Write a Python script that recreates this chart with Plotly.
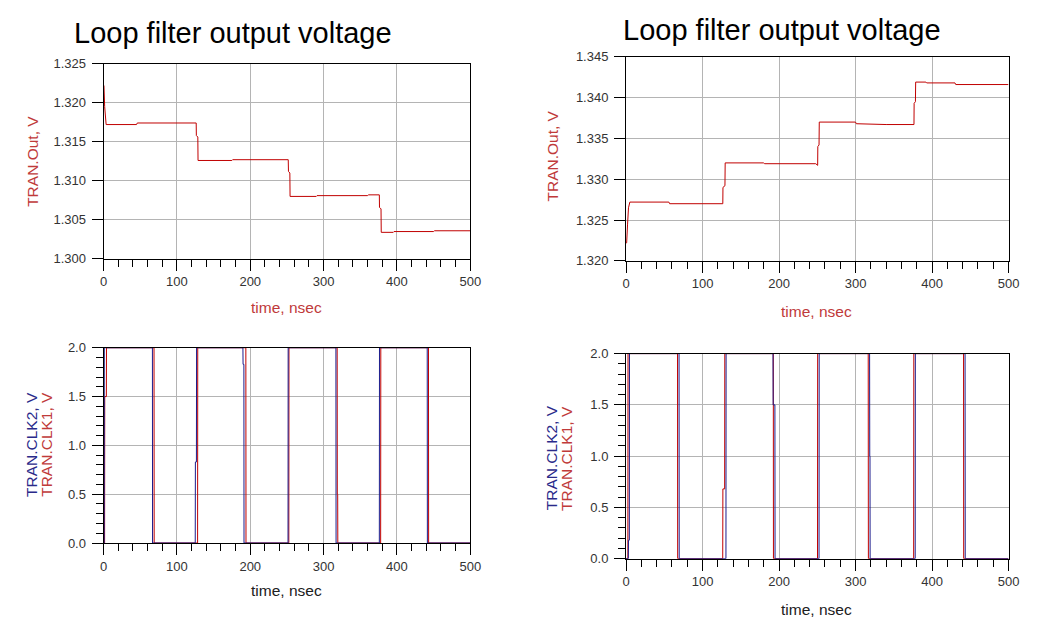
import plotly.graph_objects as go

W, H = 1056, 634

# ---------------- data ----------------
# Top-left: loop filter output (V) vs time (ns)
tl_time = [0, 0.5, 1.5, 3.5, 45, 46, 126.3, 126.5, 128.5, 128.8, 175, 176,
           251.8, 252.1, 254.0, 254.3, 290, 291, 360, 361, 376.0, 376.2, 378.3, 378.6,
           395, 396, 450, 451, 500]
tl_out = [1.3222, 1.3222, 1.3195, 1.3172, 1.3172, 1.3174, 1.3174, 1.3158, 1.3156, 1.3126, 1.3126, 1.3127,
          1.3127, 1.3112, 1.3110, 1.3080, 1.3080, 1.3081, 1.3081, 1.3082, 1.3082, 1.3066, 1.3064, 1.3034,
          1.3034, 1.3035, 1.3035, 1.3036, 1.3036]

# Top-right: loop filter output (V) vs time (ns)
tr_time = [0, 0.8, 2.0, 3.2, 5.0, 56, 57, 126.5, 126.7, 129.3, 129.6, 180, 181, 248, 250.5,
           250.7, 252.3, 252.6, 300, 301, 340, 376.4, 376.6, 378.3, 378.6, 392, 393, 430, 431, 500]
tr_out = [1.3222, 1.3222, 1.3245, 1.3265, 1.3272, 1.3272, 1.3270, 1.3270, 1.3290, 1.3292, 1.3320, 1.3320, 1.3319, 1.3319, 1.3317,
          1.3340, 1.3342, 1.3370, 1.3370, 1.3368, 1.3367, 1.3367, 1.3393, 1.3395, 1.3419, 1.3419, 1.3418, 1.3418, 1.3416, 1.3416]

# Bottom-left: clocks (V) vs time (ns)
bl_clk2_t = [0, 0.8, 1.0, 66.6, 66.8, 125.0, 125.2, 126.6, 126.8, 190.0, 190.2, 191.3, 191.5,
             251.5, 251.7, 316.8, 317.0, 376.0, 376.2, 441.3, 441.5, 500]
bl_clk2_v = [0, 0, 2, 2, 0, 0, 0.83, 0.83, 2, 2, 1.83, 1.83, 0,
             0, 2, 2, 0, 0, 2, 2, 0, 0]
bl_clk1_t = [0, 1.4, 1.6, 3.8, 4.0, 68.8, 69.0, 128.2, 128.4, 194.0, 194.2, 252.6, 252.8,
             318.5, 318.7, 319.2, 319.4, 377.8, 378.0, 443.0, 443.2, 500]
bl_clk1_v = [0, 0, 1.5, 1.5, 2, 2, 0, 0, 2, 2, 0, 0, 2,
             2, 0.5, 0.5, 0, 0, 2, 2, 0, 0]

# Bottom-right: clocks (V) vs time (ns)
br_clk1_t = [0, 2.4, 2.6, 67.3, 67.5, 126.4, 126.6, 128.9, 129.1, 192.5, 192.7, 250.3, 250.5,
             316.6, 316.8, 376.0, 376.2, 441.2, 441.4, 500]
br_clk1_v = [0, 0, 2, 2, 0, 0, 0.68, 0.68, 2, 2, 0, 0, 2,
             2, 0, 0, 2, 2, 0, 0]
br_clk2_t = [0, 3.0, 3.2, 4.3, 4.5, 69.3, 69.5, 130.6, 130.8, 192.1, 192.3, 194.6, 194.8,
             252.3, 252.5, 318.4, 318.6, 318.9, 319.1, 378.0, 378.2, 443.2, 443.4, 500]
br_clk2_v = [0, 0, 0.18, 0.18, 2, 2, 0, 0, 2, 2, 1.5, 1.5, 0,
             0, 2, 2, 1.0, 1.0, 0, 0, 2, 2, 0, 0]

x_ticks = [0, 100, 200, 300, 400, 500]
title_text = "Loop filter output voltage"
xlabel = "time, nsec"
ylabel_out = "TRAN.Out, V"
ylabel_clk2 = "TRAN.CLK2, V"
ylabel_clk1 = "TRAN.CLK1, V"

# ---------------- styles ----------------
RED = "#c00000"
BLUE = "#1c1c8c"
LBL_RED = "#c03a3a"
LBL_BLUE = "#2a2a8a"
FONT = "Liberation Sans, Arial, sans-serif"
GRID = "#b4b4b4"
TICKC = "#333333"


def px_x(x):
    return x / W


def px_y(y):
    return 1 - y / H


fig = go.Figure()

fig.add_trace(go.Scatter(x=tl_time, y=tl_out, mode="lines", line=dict(color=RED, width=1),
                         xaxis="x", yaxis="y", showlegend=False))
fig.add_trace(go.Scatter(x=tr_time, y=tr_out, mode="lines", line=dict(color=RED, width=1),
                         xaxis="x2", yaxis="y2", showlegend=False))
fig.add_trace(go.Scatter(x=bl_clk1_t, y=bl_clk1_v, mode="lines", line=dict(color=RED, width=1),
                         xaxis="x3", yaxis="y3", showlegend=False))
fig.add_trace(go.Scatter(x=bl_clk2_t, y=bl_clk2_v, mode="lines", line=dict(color=BLUE, width=1),
                         xaxis="x3", yaxis="y3", showlegend=False))
fig.add_trace(go.Scatter(x=br_clk1_t, y=br_clk1_v, mode="lines", line=dict(color=RED, width=1),
                         xaxis="x4", yaxis="y4", showlegend=False))
fig.add_trace(go.Scatter(x=br_clk2_t, y=br_clk2_v, mode="lines", line=dict(color=BLUE, width=1),
                         xaxis="x4", yaxis="y4", showlegend=False))

tickfont = dict(family=FONT, size=13, color=TICKC)


def xaxis(dom, anchor):
    return dict(domain=dom, anchor=anchor, range=[0, 500], tickvals=x_ticks,
                ticks="outside", ticklen=11, tickcolor="black", tickwidth=1,
                minor=dict(dtick=20, ticks="outside", ticklen=7, tickcolor="black", showgrid=False),
                showline=True, mirror=True, linecolor="black", linewidth=1,
                showgrid=True, gridcolor=GRID, gridwidth=1, zeroline=False,
                tickfont=tickfont, fixedrange=True)


def yaxis(dom, anchor, rng, dtick, fmt, minor=None):
    d = dict(domain=dom, anchor=anchor, range=rng, dtick=dtick, tick0=rng[0], tickformat=fmt,
             ticks="outside", ticklen=11, tickcolor="black", tickwidth=1,
             showline=True, mirror=True, linecolor="black", linewidth=1,
             showgrid=True, gridcolor=GRID, gridwidth=1, zeroline=False,
             tickfont=tickfont, fixedrange=True, ticklabelstandoff=3)
    if minor:
        d["minor"] = dict(dtick=minor, ticks="outside", ticklen=7, tickcolor="black", showgrid=False)
    return d


tl_x = [px_x(101), px_x(473)]
tr_x = [px_x(631), px_x(1019)]
fig.update_layout(
    width=W, height=H, margin=dict(l=0, r=0, t=0, b=0),
    paper_bgcolor="white", plot_bgcolor="white",
    xaxis=xaxis(tl_x, "y"),
    yaxis=yaxis([px_y(258), px_y(58)], "x", [1.300, 1.325], 0.005, ".3f"),
    xaxis2=xaxis(tr_x, "y2"),
    yaxis2=yaxis([px_y(260), px_y(51)], "x2", [1.320, 1.345], 0.005, ".3f"),
    xaxis3=xaxis(tl_x, "y3"),
    yaxis3=yaxis([px_y(549), px_y(349)], "x3", [0, 2], 0.5, ".1f", minor=0.1),
    xaxis4=xaxis(tr_x, "y4"),
    yaxis4=yaxis([px_y(565), px_y(355)], "x4", [0, 2], 0.5, ".1f", minor=0.1),
)

ann = []
# titles
ann.append(dict(text=title_text, x=px_x(232), y=px_y(27), xref="paper", yref="paper",
                showarrow=False, xanchor="center", yanchor="middle",
                font=dict(family=FONT, size=29, color="black")))
ann.append(dict(text=title_text, x=px_x(789), y=px_y(24), xref="paper", yref="paper",
                showarrow=False, xanchor="center", yanchor="middle",
                font=dict(family=FONT, size=29, color="black")))
lab = dict(family=FONT, size=15.5)
# x labels
for (cx, cy, col) in [(287, 308, LBL_RED), (824, 312, LBL_RED), (287, 598, "#202020"), (824, 617, "#202020")]:
    ann.append(dict(text=xlabel, x=px_x(cx), y=px_y(cy), xref="paper", yref="paper",
                    showarrow=False, xanchor="center", yanchor="middle",
                    font=dict(lab, color=col)))
# y labels (rotated)
for (cx, cy, txt, col) in [(29, 158, ylabel_out, LBL_RED), (556, 153, ylabel_out, LBL_RED),
                           (28, 448, ylabel_clk2, LBL_BLUE), (43, 448, ylabel_clk1, LBL_RED),
                           (555, 462, ylabel_clk2, LBL_BLUE), (570, 462, ylabel_clk1, LBL_RED)]:
    ann.append(dict(text=txt, x=px_x(cx), y=px_y(cy), xref="paper", yref="paper",
                    showarrow=False, xanchor="center", yanchor="middle", textangle=-90,
                    font=dict(lab, color=col)))
fig.update_layout(annotations=ann)

fig.write_html("out.html")
